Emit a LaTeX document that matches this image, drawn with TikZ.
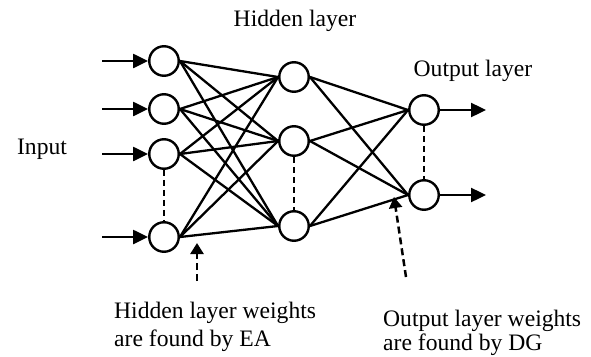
\documentclass[tikz,border=0pt]{standalone}
\usepackage{fontspec}
\setmainfont{Liberation Serif}
\usetikzlibrary{arrows.meta}
\tikzset{
  neuron/.style={circle,draw,line width=2.4pt,minimum size=29.5pt,inner sep=0pt},
  conn/.style={line width=2.3pt},
  inarrow/.style={line width=2.4pt,-{Triangle[length=15pt,width=14pt]}},
  vdash/.style={line width=2.4pt,dash pattern=on 6pt off 4pt},
  note/.style={line width=2.5pt,dash pattern=on 7pt off 4pt,-{Triangle[length=11pt,width=13pt]}},
  lbl/.style={font=\fontsize{23.6}{28}\selectfont,inner sep=0pt}
}
\begin{document}
\begin{tikzpicture}[x=1pt,y=-1pt]
\useasboundingbox (0,0) rectangle (591,356);
% input nodes
\node[neuron] (i1) at (164,61) {};
\node[neuron] (i2) at (164,109) {};
\node[neuron] (i3) at (164,154) {};
\node[neuron] (i4) at (164,237) {};
% hidden nodes
\node[neuron] (h1) at (294,77) {};
\node[neuron] (h2) at (294,141) {};
\node[neuron] (h3) at (294,226) {};
% output nodes
\node[neuron] (o1) at (424,110) {};
\node[neuron] (o2) at (424,195) {};
% input arrows
\foreach \i/\y in {1/61,2/109,3/154,4/237}{
  \coordinate (s\i) at (102,\y);
  \draw[inarrow] (s\i) -- (i\i.west);
}
% output arrows
\coordinate (e1) at (486,110);
\coordinate (e2) at (486,195);
\draw[inarrow] (o1.east) -- (e1);
\draw[inarrow] (o2.east) -- (e2);
% connections
\foreach \a in {i1,i2,i3,i4}{
  \foreach \b in {h1,h2,h3}{
    \draw[conn] (\a.east) -- (\b.west);
  }
}
\foreach \a in {h1,h2,h3}{
  \foreach \b in {o1,o2}{
    \draw[conn] (\a.east) -- (\b.west);
  }
}
% dashed verticals
\draw[vdash] (i3.south) -- (i4.north);
\draw[vdash] (h2.south) -- (h3.north);
\draw[vdash] (o1.south) -- (o2.north);
% labels
\node[lbl,anchor=base] (lin) at (42,154) {Input};
\node[lbl,anchor=base] (lhid) at (295,26) {Hidden layer};
\node[lbl,anchor=base] (lout) at (473,76) {Output layer};
\node[lbl,anchor=base west] (lhw1) at (114,318) {Hidden layer weights};
\node[lbl,anchor=base west] (lhw2) at (114,346) {are found by EA};
\node[lbl,anchor=base west] (low1) at (383,326) {Output layer weights};
\node[lbl,anchor=base west] (low2) at (383,350) {are found by DG};
% note arrows
\coordinate (p1) at (197,281);
\coordinate (q1) at (197,243);
\draw[note] (p1) -- (q1);
\coordinate (p2) at (406,277);
\coordinate (q2) at (394,197);
\draw[note] (p2) -- (q2);
\end{tikzpicture}
\end{document}
